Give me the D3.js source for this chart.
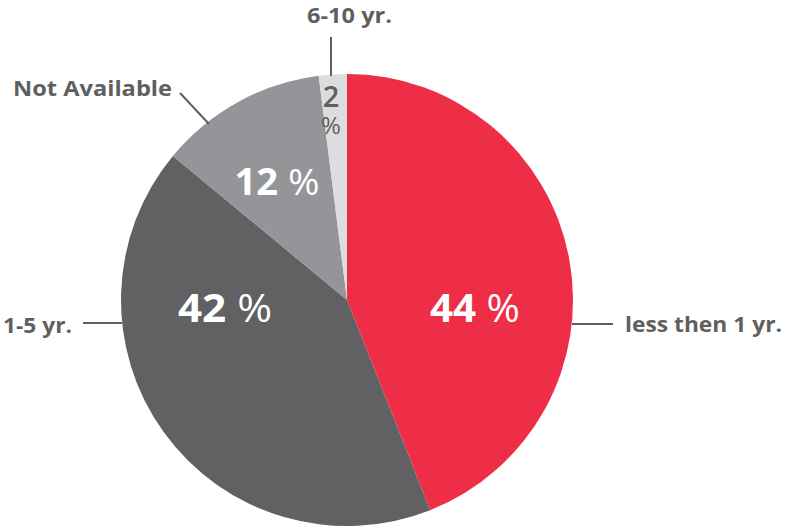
<!DOCTYPE html>
<html>
<head>
<meta charset="utf-8">
<script src="https://cdn.jsdelivr.net/npm/d3@7"></script>
<style>
  body { margin: 0; background: #fff; }
  text { font-family: "Open Sans", Lato, sans-serif; }
</style>
</head>
<body>
<div id="chart"></div>
<script>
// data
var categories = ["less then 1 yr.", "1-5 yr.", "Not Available", "6-10 yr."];
var values = [44, 42, 12, 2];
var colors = ["#ee2d47", "#616163", "#939598", "#dcdddf"];

var width = 788, height = 529;
var cx = 347, cy = 300, radius = 226;
var TEXT_COLOR = "#5f5f61";

var svg = d3.select("#chart")
  .append("svg")
  .attr("width", width)
  .attr("height", height);

var g = svg.append("g")
  .attr("transform", "translate(" + cx + "," + cy + ")");

var pie = d3.pie().sort(null).value(function(d) { return d; });
var arcs = pie(values);

var arc = d3.arc().innerRadius(0).outerRadius(radius);

g.selectAll("path.slice")
  .data(arcs)
  .enter().append("path")
  .attr("class", "slice")
  .attr("d", arc)
  .attr("fill", function(d, i) { return colors[i]; });

// inner value labels (offsets from center, placed by hand)
var inner = [
  {dx: 128, dy: 22, size: 39, w: 90},
  {dx: -122, dy: 22, size: 39, w: 94},
  {dx: -70, dy: -105, size: 37, w: 85}
];
inner.forEach(function(p, i) {
  var t = g.append("text")
    .attr("x", p.dx - p.w / 2).attr("y", p.dy)
    .attr("textLength", p.w)
    .attr("lengthAdjust", "spacingAndGlyphs")
    .attr("fill", "#fff")
    .style("font-size", p.size + "px")
    .style("font-weight", 700);
  t.append("tspan").text(values[i] + " ");
  t.append("tspan").style("font-weight", 400).text("%");
});

// the small slice: number stacked over %
var small = g.append("text")
  .attr("text-anchor", "middle")
  .attr("fill", TEXT_COLOR)
  .style("font-weight", 600);
small.append("tspan")
  .attr("x", -16).attr("y", -193)
  .style("font-size", "29px")
  .text(values[3]);
small.append("tspan")
  .attr("x", -16).attr("y", -166)
  .style("font-size", "24px")
  .style("font-weight", 400)
  .text("%");

// outer category labels with leader lines (absolute page coords)
var outer = [
  {line: [572, 324, 613, 324], x: 625, y: 332, w: 157},
  {line: [83, 323, 122, 323], x: 3, y: 333, w: 69},
  {line: [180, 93, 209, 124], x: 13, y: 96, w: 159},
  {line: [331, 37, 331, 76], x: 307, y: 23, w: 85}
];
outer.forEach(function(p, i) {
  svg.append("line")
    .attr("x1", p.line[0]).attr("y1", p.line[1])
    .attr("x2", p.line[2]).attr("y2", p.line[3])
    .attr("stroke", TEXT_COLOR)
    .attr("stroke-width", 2);
  svg.append("text")
    .attr("x", p.x).attr("y", p.y)
    .attr("textLength", p.w)
    .attr("lengthAdjust", "spacingAndGlyphs")
    .attr("fill", TEXT_COLOR)
    .style("font-size", "21px")
    .style("font-weight", 700)
    .text(categories[i]);
});
</script>
</body>
</html>
